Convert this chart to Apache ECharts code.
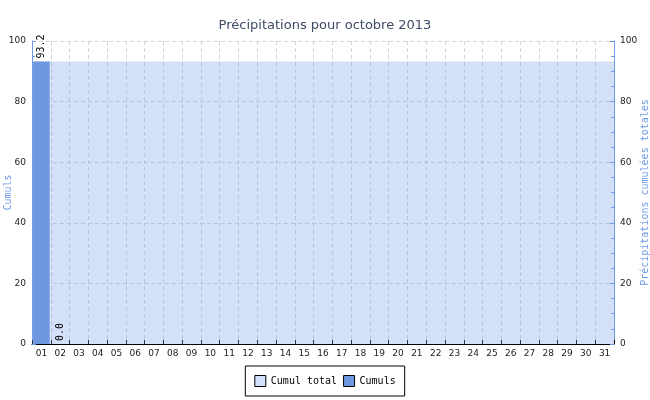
<!DOCTYPE html>
<html>
<head>
<meta charset="utf-8">
<script src="https://cdn.jsdelivr.net/npm/echarts@6/dist/echarts.min.js"></script>
<style>html,body{margin:0;padding:0;background:#fff}#c{width:650px;height:400px}</style>
</head>
<body>
<div id="c"></div>
<script>
var days = ['01','02','03','04','05','06','07','08','09','10','11','12','13','14','15','16','17','18','19','20','21','22','23','24','25','26','27','28','29','30','31'];
var cumulTotal = [93.2,93.2,93.2,93.2,93.2,93.2,93.2,93.2,93.2,93.2,93.2,93.2,93.2,93.2,93.2,93.2,93.2,93.2,93.2,93.2,93.2,93.2,93.2,93.2,93.2,93.2,93.2,93.2,93.2,93.2,93.2];
var cumuls = [93.2,0.0,null,null,null,null,null,null,null,null,null,null,null,null,null,null,null,null,null,null,null,null,null,null,null,null,null,null,null,null,null];
var yTicks = {min:0, max:100, interval:20};

var chart = echarts.init(document.getElementById('c'), null, {renderer:'canvas'});
var blue = '#6f9be6';
var mono = 'DejaVu Sans Mono';
var sans = 'DejaVu Sans';
function yAxis(pos, name, gap){
  return {
    type:'value', position:pos, min:yTicks.min, max:yTicks.max, interval:yTicks.interval,
    name:name, nameLocation:'middle', nameGap:gap, nameRotate:90, nameMoveOverlap:false,
    nameTextStyle:{color:blue, fontFamily:mono, fontSize:10},
    axisLine:{show:true, lineStyle:{color:blue, width:1}},
    axisTick:{show:true, inside:true, length:4, lineStyle:{color:blue}},
    minorTick:{show:true, splitNumber:4, length:3, lineStyle:{color:blue}},
    axisLabel:{color:'#222', fontFamily:sans, fontSize:9, margin:6},
    splitLine:{show:pos==='left', lineStyle:{color:'#d4d4d4', type:[4,3]}}
  };
}
chart.setOption({
  animation:false,
  title:{text:'Précipitations pour octobre 2013', left:'center', top:14,
    textStyle:{color:'#3e4a66', fontFamily:sans, fontSize:13, fontWeight:'normal'}},
  grid:{left:32, right:36, top:41, bottom:56, containLabel:false, outerBoundsMode:'none'},
  legend:{bottom:4, left:'center', orient:'horizontal', borderColor:'#000', borderWidth:1,
    padding:[9,9], itemWidth:11, itemHeight:11, itemGap:6, icon:'rect',
    textStyle:{fontFamily:mono, fontSize:10, color:'#000'},
    data:[{name:'Cumul total', itemStyle:{color:'#d2e0f9', borderColor:'#000', borderWidth:1}},
          {name:'Cumuls', itemStyle:{color:'#6f98e0', borderColor:'#000', borderWidth:1}}]},
  xAxis:[{
    type:'category', data:days, boundaryGap:true,
    axisLine:{show:true, lineStyle:{color:'#000'}},
    axisTick:{show:true, inside:true, length:4, interval:0, lineStyle:{color:'#000'}},
    axisLabel:{color:'#222', fontFamily:sans, fontSize:9, margin:5, interval:0},
    splitLine:{show:true, interval:0, lineStyle:{color:'#d4d4d4', type:[4,3]}}
  },{
    type:'category', data:days, show:false, boundaryGap:true
  }],
  yAxis:[yAxis('left','Cumuls',19), yAxis('right','Précipitations cumulées totales',26)],
  series:[{
    name:'Cumul total', type:'bar', xAxisIndex:1, yAxisIndex:1, data:cumulTotal,
    barWidth:'100%', itemStyle:{color:'rgba(120,160,235,0.33)'}, z:1
  },{
    name:'Cumuls', type:'bar', xAxisIndex:0, yAxisIndex:0, data:cumuls,
    barWidth:'88%', itemStyle:{color:'#6f98e0'}, z:3,
    label:{show:true, position:'top', rotate:90, align:'left', verticalAlign:'middle',
      distance:3, fontFamily:mono, fontSize:10, color:'#000',
      formatter:function(p){return p.value==null?'':p.value.toFixed(1);}}
  }]
});
</script>
</body>
</html>
